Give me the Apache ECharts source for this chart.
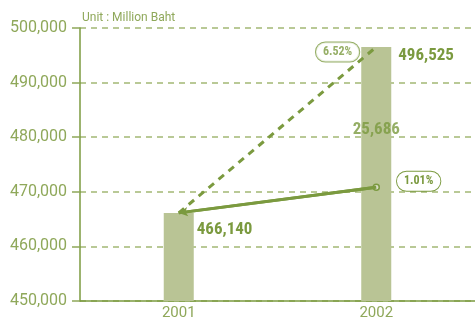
<!DOCTYPE html>
<html><head><meta charset="utf-8">
<script src="https://cdn.jsdelivr.net/npm/echarts@6/dist/echarts.min.js"></script>
<style>html,body{margin:0;padding:0;background:#fff}#c{width:475px;height:322px}</style>
</head><body><div id="c"></div>
<script>
const years = ['2001', '2002'];
const revenue = [466140, 496525];
const trendLow = [466140, 470839];
const growthLabels = ['6.52%', '1.01%'];
const gapLabel = '25,686';
const yTicks = [450000, 460000, 470000, 480000, 490000, 500000];

const GREEN = '#7b9a3f';
const LIGHT = '#8fa85a';
const BAR = '#b9c495';
const COND = '"Roboto Condensed", "Liberation Sans Narrow", sans-serif';
const fmt = v => v.toString().replace(/\B(?=(\d{3})+(?!\d))/g, ',');
const pill = {
  show: true, color: GREEN, fontFamily: COND,
  fontWeight: 'bold', fontSize: 12, backgroundColor: '#fff', borderColor: GREEN, borderWidth: 1,
  borderRadius: 10, padding: [4, 7, 3, 7]
};
const big = {color: GREEN, fontFamily: COND, fontWeight: 'bold', fontSize: 17};

const chart = echarts.init(document.getElementById('c'));
chart.setOption({
  animation: false,
  grid: {left: 80, right: -5, top: 28, bottom: 21, containLabel: false},
  xAxis: [{
    type: 'category', data: years, boundaryGap: true,
    axisLine: {lineStyle: {color: GREEN, width: 1.5}},
    axisTick: {length: 6, lineStyle: {color: LIGHT, width: 1.5}},
    axisLabel: {color: LIGHT, fontFamily: 'Roboto', fontSize: 15, margin: 5}
  }, {
    type: 'category', data: years, boundaryGap: true, position: 'bottom',
    axisLine: {show: false}, axisLabel: {show: false},
    axisTick: {inside: true, length: 7, lineStyle: {color: LIGHT, width: 1.5}}
  }],
  yAxis: {
    type: 'value', min: yTicks[0], max: yTicks[yTicks.length - 1], interval: 10000,
    name: 'Unit : Million Baht', nameLocation: 'end', nameGap: 4,
    nameTextStyle: {color: LIGHT, fontFamily: 'Roboto', fontSize: 12, align: 'left', padding: [0, 0, 0, 2]},
    axisLine: {show: true, lineStyle: {color: GREEN, width: 1.5}},
    axisTick: {show: true, length: 8, lineStyle: {color: LIGHT, width: 1.5}},
    axisLabel: {color: LIGHT, fontFamily: 'Roboto', fontSize: 16, margin: 13, formatter: fmt},
    splitLine: {show: true, lineStyle: {color: '#a3b874', type: [6, 5], width: 1.5}}
  },
  series: [{
    type: 'bar', data: revenue.map((v, i) => ({
      value: v,
      label: {show: true, formatter: fmt(v), position: i === 0 ? [33, 8] : [37, 0], ...big}
    })),
    barWidth: 30, itemStyle: {color: BAR}, z: 1
  }, {
    type: 'line', data: revenue, symbol: 'none',
    lineStyle: {color: GREEN, width: 3, type: [7, 6]}, z: 3
  }, {
    type: 'scatter', symbolSize: 0, z: 5,
    data: [[years.length - 1, revenue[revenue.length - 1]]],
    label: {...pill, formatter: growthLabels[0], position: 'left', distance: 17, offset: [0, 5]}
  }, {
    type: 'line', data: trendLow.map((v, i) => ({
      value: v, symbol: i === 1 ? 'circle' : 'none', symbolSize: 6,
      itemStyle: {color: '#d7dcc4', borderColor: GREEN, borderWidth: 1.5},
      label: i === 1 ? {...pill, formatter: growthLabels[1], position: 'right', distance: 17, offset: [0, -6]} : {show: false}
    })),
    lineStyle: {color: GREEN, width: 3}, z: 3,
    markLine: {
      silent: true, symbol: ['none', 'arrow'], symbolSize: [7, 9],
      lineStyle: {color: GREEN, width: 3, type: 'solid'}, label: {show: false},
      data: [[{coord: [1, trendLow[1]]}, {coord: [0, trendLow[0]]}]]
    }
  }, {
    type: 'scatter', symbolSize: 0,
    data: [[1, (revenue[0] + revenue[1]) / 2]],
    label: {show: true, position: 'inside', formatter: gapLabel, ...big}, z: 4
  }]
});
</script></body></html>
